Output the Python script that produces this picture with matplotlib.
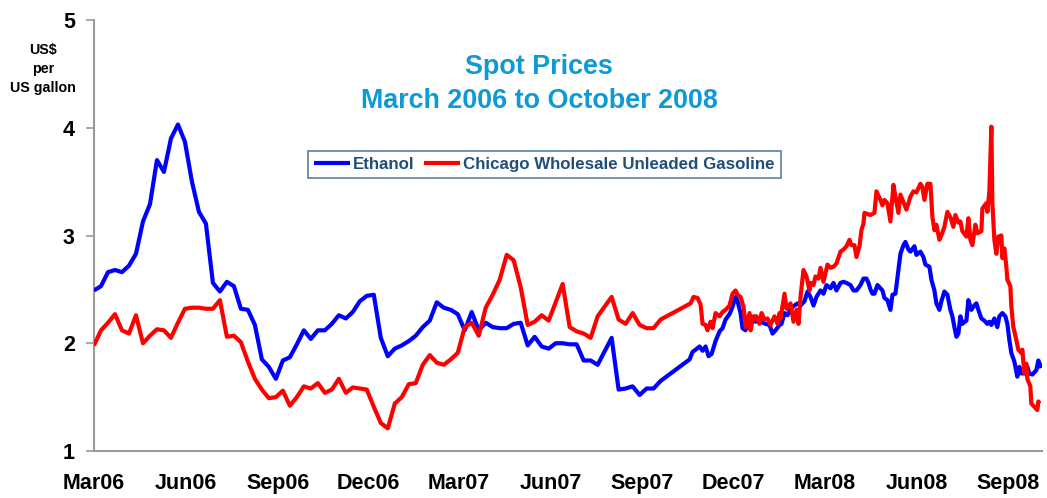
import matplotlib
matplotlib.use('Agg')
import matplotlib.pyplot as plt
import matplotlib.dates as mdates
import pandas as pd

# ---------------- data ----------------
weekly_start = '2006-03-01'   # weekly observations Mar 2006 - Sep 2007

eth_weekly = [2.49, 2.53, 2.66, 2.68, 2.66, 2.72, 2.83, 3.13, 3.29, 3.70,
              3.59, 3.90, 4.03, 3.87, 3.50, 3.22, 3.11, 2.56, 2.48, 2.57,
              2.53, 2.32, 2.31, 2.17, 1.85, 1.78, 1.67, 1.84, 1.87, 1.99,
              2.12, 2.04, 2.12, 2.12, 2.18, 2.26, 2.23, 2.29, 2.39, 2.44,
              2.45, 2.05, 1.88, 1.95, 1.98, 2.02, 2.07, 2.15, 2.21, 2.38,
              2.33, 2.31, 2.27, 2.12, 2.29, 2.12, 2.19, 2.15, 2.14, 2.14,
              2.18, 2.19, 1.98, 2.06, 1.97, 1.95, 2.00, 2.00, 1.99, 1.99,
              1.84, 1.84, 1.80, None, 2.05, 1.57, 1.58, 1.60, 1.52, 1.58,
              1.58, 1.65]

gas_weekly = [1.98, 2.12, 2.19, 2.27, 2.12, 2.09, 2.26, 2.00, 2.07, 2.13,
              2.12, 2.05, 2.19, 2.32, 2.33, 2.33, 2.32, 2.32, 2.40, 2.06,
              2.07, 2.01, 1.83, 1.67, 1.57, 1.49, 1.50, 1.56, 1.42, 1.50,
              1.60, 1.58, 1.63, 1.54, 1.57, 1.67, 1.54, 1.59, 1.58, 1.57,
              1.41, 1.26, 1.21, 1.44, 1.50, 1.62, 1.63, 1.80, 1.89, 1.82,
              1.80, 1.85, 1.91, 2.15, 2.19, 2.07, 2.33, 2.45, 2.59, 2.82,
              2.77, 2.52, 2.17, 2.20, 2.26, 2.21, 2.38, 2.55, 2.15, 2.11,
              2.09, 2.05, 2.25, None, 2.43, 2.22, 2.18, 2.28, 2.17, 2.14,
              2.14, 2.22]

eth_daily_dates = [
    '2007-10-18', '2007-10-21', '2007-10-24', '2007-10-28', '2007-10-31', '2007-11-03',
    '2007-11-06', '2007-11-09', '2007-11-13', '2007-11-17', '2007-11-20', '2007-11-23',
    '2007-11-27', '2007-11-30', '2007-12-03', '2007-12-05', '2007-12-08', '2007-12-10',
    '2007-12-13', '2007-12-17', '2007-12-20', '2007-12-23', '2007-12-27', '2007-12-30',
    '2008-01-02', '2008-01-06', '2008-01-09', '2008-01-12', '2008-01-16', '2008-01-18',
    '2008-01-21', '2008-01-24', '2008-01-27', '2008-01-31', '2008-02-03', '2008-02-06',
    '2008-02-10', '2008-02-13', '2008-02-16', '2008-02-19', '2008-02-22', '2008-02-26',
    '2008-02-29', '2008-03-03', '2008-03-07', '2008-03-10', '2008-03-13', '2008-03-17',
    '2008-03-20', '2008-03-23', '2008-03-27', '2008-03-30', '2008-04-02', '2008-04-06',
    '2008-04-09', '2008-04-12', '2008-04-14', '2008-04-16', '2008-04-18', '2008-04-20',
    '2008-04-23', '2008-04-26', '2008-04-28', '2008-04-30', '2008-05-03', '2008-05-06',
    '2008-05-08', '2008-05-11', '2008-05-14', '2008-05-16', '2008-05-19', '2008-05-21',
    '2008-05-24', '2008-05-26', '2008-05-30', '2008-06-01', '2008-06-05', '2008-06-08',
    '2008-06-10', '2008-06-14', '2008-06-16', '2008-06-19', '2008-06-21', '2008-06-24',
    '2008-06-26', '2008-06-29', '2008-07-02', '2008-07-05', '2008-07-07', '2008-07-09',
    '2008-07-11', '2008-07-13', '2008-07-15', '2008-07-17', '2008-07-21', '2008-07-23',
    '2008-07-26', '2008-07-28', '2008-07-31', '2008-08-02', '2008-08-05', '2008-08-08',
    '2008-08-11', '2008-08-13', '2008-08-15', '2008-08-18', '2008-08-21', '2008-08-23',
    '2008-08-26', '2008-08-29', '2008-08-31', '2008-09-02', '2008-09-04', '2008-09-07',
    '2008-09-10', '2008-09-12', '2008-09-14', '2008-09-17', '2008-09-20', '2008-09-22',
    '2008-09-25', '2008-09-29', '2008-10-01', '2008-10-04']
eth_daily_vals = [
    1.85, 1.92, 1.94, 1.97, 1.93, 1.97,
    1.88, 1.90, 2.02, 2.11, 2.14, 2.22,
    2.27, 2.34, 2.43, 2.39, 2.28, 2.14,
    2.12, 2.26, 2.23, 2.20, 2.21, 2.19,
    2.18, 2.17, 2.09, 2.12, 2.17, 2.18,
    2.28, 2.26, 2.32, 2.35, 2.37, 2.35,
    2.39, 2.48, 2.43, 2.35, 2.43, 2.49,
    2.46, 2.54, 2.51, 2.56, 2.49, 2.56,
    2.57, 2.56, 2.54, 2.49, 2.49, 2.54,
    2.60, 2.60, 2.56, 2.50, 2.46, 2.46,
    2.54, 2.51, 2.49, 2.42, 2.40, 2.31,
    2.45, 2.46, 2.68, 2.83, 2.91, 2.94,
    2.87, 2.85, 2.90, 2.82, 2.85, 2.80,
    2.73, 2.71, 2.59, 2.49, 2.37, 2.31,
    2.39, 2.48, 2.45, 2.31, 2.25, 2.15,
    2.06, 2.09, 2.25, 2.18, 2.21, 2.40,
    2.31, 2.34, 2.37, 2.31, 2.23, 2.21,
    2.18, 2.20, 2.17, 2.23, 2.15, 2.25,
    2.28, 2.25, 2.18, 2.03, 1.91, 1.83,
    1.69, 1.78, 1.72, 1.72, 1.78, 1.72,
    1.71, 1.75, 1.84, 1.77]

gas_daily_dates = [
    '2007-10-19', '2007-10-22', '2007-10-26', '2007-10-29', '2007-10-31', '2007-11-03',
    '2007-11-05', '2007-11-08', '2007-11-10', '2007-11-13', '2007-11-17', '2007-11-20',
    '2007-11-23', '2007-11-27', '2007-11-30', '2007-12-03', '2007-12-05', '2007-12-08',
    '2007-12-11', '2007-12-13', '2007-12-17', '2007-12-18', '2007-12-21', '2007-12-24',
    '2007-12-27', '2007-12-29', '2008-01-01', '2008-01-04', '2008-01-07', '2008-01-11',
    '2008-01-14', '2008-01-16', '2008-01-17', '2008-01-21', '2008-01-23', '2008-01-27',
    '2008-01-30', '2008-02-02', '2008-02-04', '2008-02-06', '2008-02-09', '2008-02-12',
    '2008-02-15', '2008-02-16', '2008-02-19', '2008-02-21', '2008-02-24', '2008-02-26',
    '2008-02-29', '2008-03-02', '2008-03-04', '2008-03-07', '2008-03-10', '2008-03-13',
    '2008-03-17', '2008-03-20', '2008-03-23', '2008-03-26', '2008-03-28', '2008-03-31',
    '2008-04-02', '2008-04-05', '2008-04-07', '2008-04-09', '2008-04-10', '2008-04-13',
    '2008-04-16', '2008-04-20', '2008-04-22', '2008-04-26', '2008-04-28', '2008-04-30',
    '2008-05-03', '2008-05-06', '2008-05-09', '2008-05-11', '2008-05-14', '2008-05-16',
    '2008-05-19', '2008-05-22', '2008-05-26', '2008-05-29', '2008-06-01', '2008-06-05',
    '2008-06-07', '2008-06-09', '2008-06-12', '2008-06-15', '2008-06-17', '2008-06-19',
    '2008-06-21', '2008-06-24', '2008-06-26', '2008-06-29', '2008-07-02', '2008-07-05',
    '2008-07-08', '2008-07-10', '2008-07-13', '2008-07-15', '2008-07-17', '2008-07-21',
    '2008-07-23', '2008-07-25', '2008-07-27', '2008-07-30', '2008-08-01', '2008-08-05',
    '2008-08-06', '2008-08-10', '2008-08-11', '2008-08-13', '2008-08-15', '2008-08-16',
    '2008-08-18', '2008-08-20', '2008-08-22', '2008-08-25', '2008-08-26', '2008-08-28',
    '2008-08-30', '2008-08-31', '2008-09-03', '2008-09-04', '2008-09-06', '2008-09-09',
    '2008-09-11', '2008-09-14', '2008-09-15', '2008-09-17', '2008-09-19', '2008-09-20',
    '2008-09-23', '2008-09-24', '2008-09-27', '2008-09-30', '2008-10-01', '2008-10-02']
gas_daily_vals = [
    2.37, 2.43, 2.42, 2.36, 2.18, 2.17,
    2.12, 2.20, 2.14, 2.28, 2.25, 2.29,
    2.31, 2.35, 2.46, 2.49, 2.45, 2.43,
    2.34, 2.15, 2.28, 2.12, 2.25, 2.25,
    2.18, 2.28, 2.22, 2.23, 2.17, 2.25,
    2.18, 2.28, 2.23, 2.46, 2.32, 2.37,
    2.20, 2.31, 2.18, 2.43, 2.68, 2.62,
    2.49, 2.56, 2.54, 2.62, 2.60, 2.70,
    2.57, 2.65, 2.73, 2.70, 2.71, 2.74,
    2.85, 2.87, 2.90, 2.96, 2.91, 2.91,
    2.80, 2.90, 3.05, 3.11, 3.21, 3.20,
    3.19, 3.21, 3.41, 3.33, 3.28, 3.33,
    3.30, 3.13, 3.47, 3.36, 3.21, 3.38,
    3.31, 3.24, 3.36, 3.41, 3.40, 3.48,
    3.45, 3.33, 3.48, 3.48, 3.17, 3.05,
    3.10, 2.96, 3.00, 3.08, 3.22, 3.17,
    3.08, 3.19, 3.12, 3.13, 3.04, 2.99,
    3.16, 2.96, 2.91, 3.10, 3.02, 3.04,
    3.25, 3.30, 3.22, 3.41, 4.01, 3.30,
    2.96, 2.83, 2.99, 3.00, 2.79, 2.88,
    2.71, 2.59, 2.53, 2.34, 2.15, 2.03,
    1.94, 1.91, 1.94, 1.72, 1.81, 1.67,
    1.60, 1.44, 1.41, 1.38, 1.46, 1.44]

series_names = ['Ethanol', 'Chicago Wholesale Unleaded Gasoline']
series_colors = ['#0000FF', '#FF0000']
y_ticks = [1, 2, 3, 4, 5]
title_lines = ['Spot Prices', 'March 2006 to October 2008']
y_label = 'US$\nper\nUS gallon'

# ---------------- build series ----------------
wk_index = pd.date_range(weekly_start, periods=len(eth_weekly), freq='7D')
eth = pd.concat([pd.Series(eth_weekly, index=wk_index, dtype=float),
                 pd.Series(eth_daily_vals, index=pd.to_datetime(eth_daily_dates), dtype=float)]).dropna()
gas = pd.concat([pd.Series(gas_weekly, index=wk_index, dtype=float),
                 pd.Series(gas_daily_vals, index=pd.to_datetime(gas_daily_dates), dtype=float)]).dropna()

# ---------------- figure ----------------
plt.rcParams['font.family'] = ['Liberation Sans', 'DejaVu Sans']
plt.rcParams['font.weight'] = 'bold'

W, H = 1047, 498
fig = plt.figure(figsize=(W / 100, H / 100), dpi=100)
ax = fig.add_axes([94 / W, 1 - 451 / H, (1042 - 94) / W, (451 - 20) / H])

for s, name, col, z in [(eth, series_names[0], series_colors[0], 3),
                        (gas, series_names[1], series_colors[1], 4)]:
    ax.plot(s.index, s.values, color=col, lw=3.0, label=name, zorder=z,
            solid_joinstyle='round', solid_capstyle='butt')

ax.set_xlim(pd.Timestamp('2006-03-01'), pd.Timestamp('2008-10-04 16:00'))
ax.set_ylim(1, 5)
ax.set_yticks(y_ticks)
ax.set_yticklabels([str(v) for v in y_ticks])
ax.set_xticks(pd.date_range('2006-03-01', '2008-09-01', freq='3MS'))
ax.xaxis.set_major_formatter(mdates.DateFormatter('%b%y'))

for sp in ['top', 'right']:
    ax.spines[sp].set_visible(False)
for sp in ['left', 'bottom']:
    ax.spines[sp].set_color('#9A9A9A')
    ax.spines[sp].set_linewidth(1.5)

ax.tick_params(axis='y', length=5.8, width=1.2, color='#9A9A9A', pad=8,
               labelsize=15.5, labelcolor='black')
ax.tick_params(axis='x', length=0, pad=16, labelsize=15.5, labelcolor='black')
for lab in ax.get_xticklabels() + ax.get_yticklabels():
    lab.set_fontweight('bold')

# y-axis unit label
fig.text(43 / W, 1 - 69 / H, y_label, ha='center', va='center',
         fontsize=10.3, fontweight='bold', linespacing=1.45, color='black')

# title
title_color = '#0E9AD6'
fig.text(539 / W, 1 - 74 / H, title_lines[0], ha='center', va='baseline',
         fontsize=19.4, fontweight='bold', color=title_color)
fig.text(539 / W, 1 - 108 / H, title_lines[1], ha='center', va='baseline',
         fontsize=19.4, fontweight='bold', color=title_color)

# legend
leg = fig.legend(loc='center', bbox_to_anchor=(544.5 / W, 1 - 164.5 / H), ncol=2,
                 frameon=True, fancybox=False, edgecolor='#2E5F8F',
                 prop={'size': 12.2, 'weight': 'bold'},
                 handlelength=2.1, handletextpad=0.2, columnspacing=0.55,
                 borderpad=0.35, borderaxespad=0)
leg.get_frame().set_linewidth(1.2)
for t in leg.get_texts():
    t.set_color('#1F4E79')

fig.savefig('out.png', dpi=100)
